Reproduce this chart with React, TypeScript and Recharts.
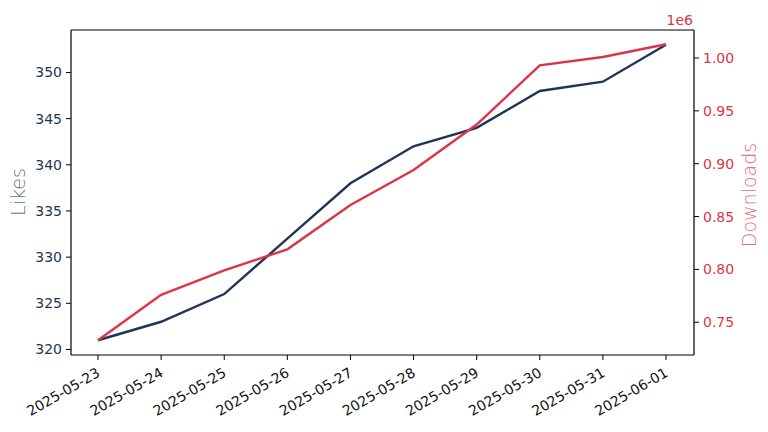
import { Line, LineChart, XAxis, YAxis } from 'recharts';

const dates = [
  '2025-05-23',
  '2025-05-24',
  '2025-05-25',
  '2025-05-26',
  '2025-05-27',
  '2025-05-28',
  '2025-05-29',
  '2025-05-30',
  '2025-05-31',
  '2025-06-01',
];
const likes = [321, 323, 326, 332, 338, 342, 344, 348, 349, 353];
const downloads = [733000, 776000, 799000, 819000, 861000, 894000, 937000, 993000, 1001000, 1013000];
const likesTicks = [320, 325, 330, 335, 340, 345, 350];
const downloadTicks = [750000, 800000, 850000, 900000, 950000, 1000000];

const NAVY = '#1f3557';
const RED = '#dc3545';
const FONT = '"DejaVu Sans", sans-serif';

const data = dates.map((date, i) => ({ date, likes: likes[i], downloads: downloads[i] }));

function DateTick({ x, y, payload }: any) {
  return (
    <g transform={`translate(${x - 2},${y + 5})`}>
      <text
        transform="rotate(-30)"
        textAnchor="end"
        fontFamily={FONT}
        fontSize={14}
        fill="#111"
        dy={10}
      >
        {payload.value}
      </text>
    </g>
  );
}

export default function App() {
  return (
    <div style={{ position: 'absolute', left: 0, top: 0, width: 768, height: 432, background: '#fff' }}>
      <LineChart width={768} height={432} data={data} margin={{ top: 30, right: 0, left: 0, bottom: 0 }}>
        <XAxis
          dataKey="date"
          height={77}
          interval={0}
          padding={{ left: 27, right: 28 }}
          axisLine={{ stroke: '#000', strokeWidth: 1.2 }}
          tickLine={{ stroke: '#000' }}
          tickSize={5}
          tick={<DateTick />}
        />
        <YAxis
          yAxisId="left"
          orientation="left"
          width={71}
          domain={[319.4, 354.6]}
          ticks={likesTicks}
          allowDataOverflow
          axisLine={{ stroke: '#000', strokeWidth: 1.2 }}
          tickLine={{ stroke: '#000' }}
          tickSize={5}
          tickMargin={4}
          tick={{ fill: NAVY, fontSize: 14, fontFamily: FONT }}
        />
        <YAxis
          yAxisId="right"
          orientation="right"
          width={74}
          domain={[719000, 1026500]}
          ticks={downloadTicks}
          allowDataOverflow
          tickFormatter={(v: number) => (v / 1e6).toFixed(2)}
          axisLine={{ stroke: '#000', strokeWidth: 1.2 }}
          tickLine={{ stroke: '#000' }}
          tickSize={5}
          tickMargin={4}
          tick={{ fill: RED, fontSize: 14, fontFamily: FONT }}
        />
        <line x1={71} y1={30} x2={694} y2={30} stroke="#000" strokeWidth={1.2} />
        <text x={693} y={25} textAnchor="end" fontFamily={FONT} fontSize={14} fill={RED}>
          1e6
        </text>
        <text
          x={0}
          y={0}
          transform="translate(25,192) rotate(-90)"
          textAnchor="middle"
          fontFamily={FONT}
          fontSize={19}
          fontWeight={200}
          fill="#66758c"
        >
          Likes
        </text>
        <text
          x={0}
          y={0}
          transform="translate(756,195) rotate(-90)"
          textAnchor="middle"
          fontFamily={FONT}
          fontSize={19}
          fontWeight={200}
          fill="#e06d79"
        >
          Downloads
        </text>
        <Line
          yAxisId="left"
          dataKey="likes"
          type="linear"
          stroke={NAVY}
          strokeWidth={2.4}
          dot={false}
          isAnimationActive={false}
        />
        <Line
          yAxisId="right"
          dataKey="downloads"
          type="linear"
          stroke={RED}
          strokeWidth={2.4}
          dot={false}
          isAnimationActive={false}
        />
      </LineChart>
    </div>
  );
}
